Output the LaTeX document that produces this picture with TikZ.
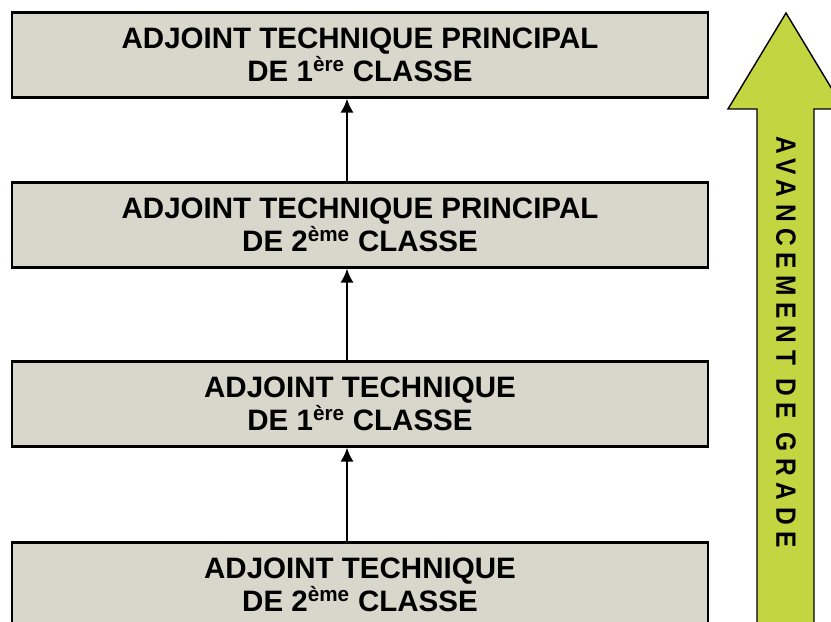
\documentclass[tikz,border=0pt]{standalone}
\usepackage{fontspec}
\setmainfont{Liberation Sans}
\newfontfamily\avfamily[LetterSpace=27]{Liberation Sans Bold}
\usetikzlibrary{arrows.meta, positioning}
\definecolor{boxgray}{RGB}{216,215,203}
\definecolor{avgreen}{RGB}{196,213,66}
\newcommand{\gradefont}{\fontsize{25.2}{28.2}\selectfont\bfseries}
\newcommand{\avfont}{\avfamily\fontsize{23.8}{26}\selectfont}

\begin{document}
\begin{tikzpicture}[>={Latex[length=0.42cm, width=0.4cm]}, grade/.style={draw, line width=2pt, fill=boxgray, minimum width=20.88cm, minimum height=2.55cm, align=center, text depth=-0.2cm, font=\gradefont}]
    \useasboundingbox (0,0) rectangle (24.93,-18.66);
    \clip (0,0) rectangle (24.93,-18.66);

    \node[grade] (adjp1) at (10.8,-1.65) {ADJOINT TECHNIQUE PRINCIPAL\\DE 1\textsuperscript{ère} CLASSE};
    \node[grade, below of=adjp1, node distance=5.1cm] (adjp2) {ADJOINT TECHNIQUE PRINCIPAL\\DE 2\textsuperscript{ème} CLASSE};
    \node[grade, below of=adjp2, node distance=5.37cm] (adj1) {ADJOINT TECHNIQUE\\DE 1\textsuperscript{ère} CLASSE};
    \node[grade, below of=adj1, node distance=5.43cm] (adj2) {ADJOINT TECHNIQUE\\DE 2\textsuperscript{ème} CLASSE};

    \draw[->, line width=2pt] ([xshift=-0.39cm]adj2.north) -- ([xshift=-0.39cm]adj1.south);
    \draw[->, line width=2pt] ([xshift=-0.39cm]adj1.north) -- ([xshift=-0.39cm]adjp2.south);
    \draw[->, line width=2pt] ([xshift=-0.39cm]adjp2.north) -- ([xshift=-0.39cm]adjp1.south);

    % big arrow on the right
    \filldraw[fill=avgreen, line width=1.2pt] (23.58,-0.39) -- (25.32,-3.27) -- (24.42,-3.27) -- (24.42,-21) -- (22.71,-21) -- (22.71,-3.27) -- (21.84,-3.27) -- cycle;
    \node[rotate=-90, xscale=0.88, font=\avfont] (avancement) at (23.58,-10.26) {AVANCEMENT DE GRADE};
\end{tikzpicture}
\end{document}
